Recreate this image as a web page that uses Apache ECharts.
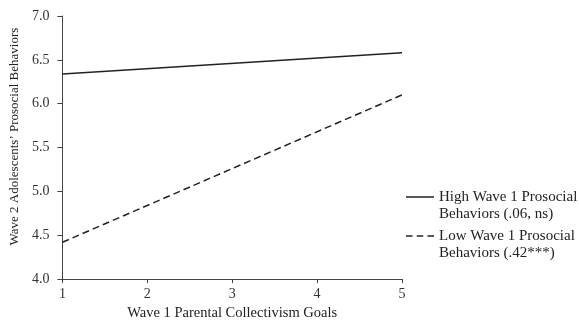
<!DOCTYPE html>
<html>
<head>
<meta charset="utf-8">
<style>html,body{margin:0;padding:0;background:#fff;}#c{width:579px;height:326px;}</style>
<script src="https://cdn.jsdelivr.net/npm/echarts@6/dist/echarts.min.js"></script>
</head>
<body>
<div id="c"></div>
<script>
const xValues = [1, 5];
const highValues = [6.34, 6.58];
const lowValues = [4.42, 6.10];
const seriesNames = ['High Wave 1 Prosocial\nBehaviors (.06, ns)', 'Low Wave 1 Prosocial\nBehaviors (.42***)'];
const xTitle = 'Wave 1 Parental Collectivism Goals';
const yTitle = 'Wave 2 Adolescents\u2019 Prosocial Behaviors';

const font = '"Liberation Serif", "Times New Roman", serif';
const ink = '#222';
const corners = ' M0,0h0.01v0.01h-0.01Z M27.99,33.99h0.01v0.01h-0.01Z';
const solidIcon = 'path://M0,7.75h28v1.5h-28Z' + corners;
const dashIcon = 'path://M0,7.75h6.5v1.5h-6.5Z M10.75,7.75h6.5v1.5h-6.5Z M21.5,7.75h6.5v1.5h-6.5Z' + corners;

const chart = echarts.init(document.getElementById('c'), null, {renderer: 'canvas'});
chart.setOption({
  animation: false,
  textStyle: {fontFamily: font},
  grid: {left: 57, right: 177, top: 16, bottom: 41},
  legend: {
    orient: 'vertical', left: 406, top: 188.5, padding: 0, itemGap: 5,
    itemWidth: 28, itemHeight: 34, selectedMode: false,
    textStyle: {fontFamily: font, fontSize: 15, color: ink, lineHeight: 17},
    data: [
      {name: seriesNames[0], icon: solidIcon, itemStyle: {color: ink}},
      {name: seriesNames[1], icon: dashIcon, itemStyle: {color: ink}}
    ]
  },
  xAxis: {
    type: 'value', min: 1, max: 5, interval: 1,
    name: xTitle, nameLocation: 'middle', nameGap: 25,
    nameTextStyle: {fontFamily: font, fontSize: 14.5, color: ink},
    axisLine: {lineStyle: {color: '#444', width: 1}},
    axisTick: {show: true, length: 4, lineStyle: {color: '#444'}},
    axisLabel: {fontFamily: font, fontSize: 14, color: '#333', margin: 8},
    splitLine: {show: false}
  },
  yAxis: {
    type: 'value', min: 4, max: 7, interval: 0.5,
    name: yTitle, nameLocation: 'middle', nameGap: 32, nameRotate: 90,
    nameTextStyle: {fontFamily: font, fontSize: 13, color: ink, padding: [0, 0, 0, 22]},
    axisLine: {show: true, lineStyle: {color: '#444', width: 1}},
    axisTick: {show: true, length: 5, lineStyle: {color: '#444'}},
    axisLabel: {fontFamily: font, fontSize: 14, color: '#333', margin: 13,
      formatter: v => v.toFixed(1)},
    splitLine: {show: false}
  },
  series: [
    {name: seriesNames[0], type: 'line', symbol: 'none', silent: true,
     data: xValues.map((x, i) => [x, highValues[i]]),
     lineStyle: {color: ink, width: 1.5, type: 'solid'}, itemStyle: {color: ink}},
    {name: seriesNames[1], type: 'line', symbol: 'none', silent: true,
     data: xValues.map((x, i) => [x, lowValues[i]]),
     lineStyle: {color: ink, width: 1.5, type: [7, 4]}, itemStyle: {color: ink}}
  ]
});
</script>
</body>
</html>
